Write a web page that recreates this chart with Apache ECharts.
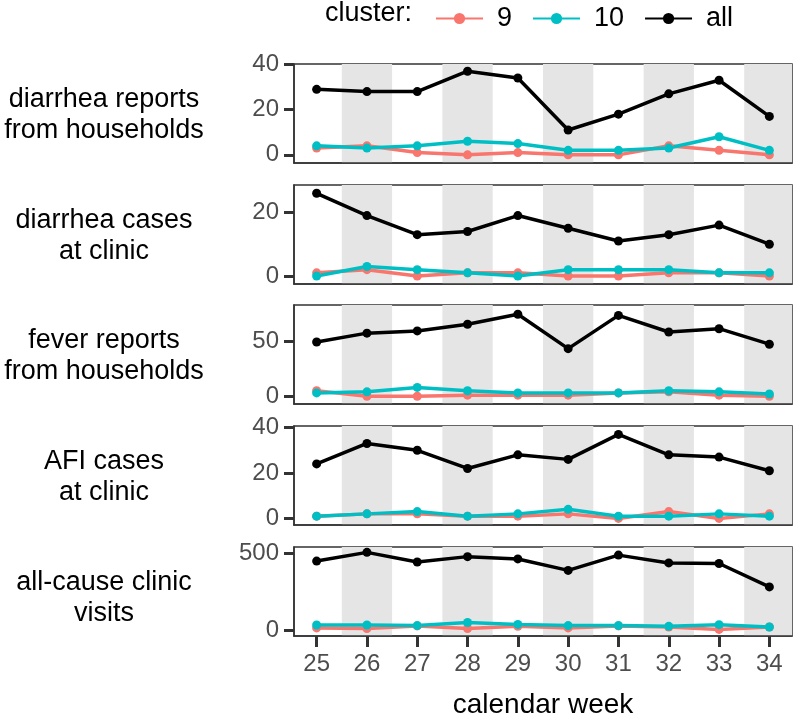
<!DOCTYPE html>
<html>
<head>
<meta charset="utf-8">
<script src="https://cdn.jsdelivr.net/npm/echarts@6/dist/echarts.min.js"></script>
<style>
html, body { margin: 0; padding: 0; background: #fff; }
#chart { width: 800px; height: 720px; }
</style>
</head>
<body>
<div id="chart"></div>
<script>
const weeks = [25, 26, 27, 28, 29, 30, 31, 32, 33, 34];
const panelLabels = [
    'diarrhea reports\nfrom households',
    'diarrhea cases\nat clinic',
    'fever reports\nfrom households',
    'AFI cases\nat clinic',
    'all-cause clinic\nvisits'
];
const clusterNames = ['9', '10', 'all'];
// one row per panel
const cluster9 = [
    [3, 4, 1, 0, 1, 0, 0, 4, 2, 0],
    [1, 2, 0, 1, 1, 0, 0, 1, 1, 0],
    [5, 0, 0, 1, 1, 1, 3, 4, 1, 0],
    [1, 2, 2, 1, 1, 2, 0, 3, 0, 2],
    [14, 10, 27, 10, 24, 14, 27, 20, 4, 20]
];
const cluster10 = [
    [4, 3, 4, 6, 5, 2, 2, 3, 8, 2],
    [0, 3, 2, 1, 0, 2, 2, 2, 1, 1],
    [3, 4, 8, 5, 3, 3, 3, 5, 4, 2],
    [1, 2, 3, 1, 2, 4, 1, 1, 2, 1],
    [33, 33, 29, 49, 37, 29, 29, 24, 35, 20]
];
const clusterAll = [
    [29, 28, 28, 37, 34, 11, 18, 27, 33, 17],
    [26, 19, 13, 14, 19, 15, 11, 13, 16, 10],
    [49, 57, 59, 65, 74, 43, 73, 58, 61, 47],
    [24, 33, 30, 22, 28, 26, 37, 28, 27, 21],
    [451, 508, 445, 480, 465, 390, 490, 439, 435, 282]
];
const yTicks = [[0, 20, 40], [0, 20], [0, 50], [0, 20, 40], [0, 500]];
const yRanges = [[-3.6, 40.2], [-2.5, 28.6], [-7, 82.4], [-2.9, 40.7], [-39, 543]];

const colors = ['#F8766D', '#00BFC4', '#000000'];
const font = 'Liberation Sans, Arial, sans-serif';
const xMin = 24.55, xMax = 34.45;
const gridTops = [64, 185, 305, 426, 547];
const gridH = 99;
const tickColor = '#333';

// shaded bands behind even weeks
const bands = weeks.filter(w => w % 2 === 0).map(w => [
    { xAxis: w - 0.5 }, { xAxis: Math.min(w + 0.5, xMax) }
]);

const grids = [], xAxes = [], yAxes = [], series = [], graphics = [];
for (let i = 0; i < 5; i++) {
    const last = i === 4;
    grids.push({
        left: 294, right: 8, top: gridTops[i], height: gridH,
        show: true, borderColor: '#333', borderWidth: 1.5,
        backgroundColor: 'transparent'
    });
    xAxes.push({
        type: 'value', gridIndex: i, min: xMin, max: xMax, z: 10,
        axisLine: { show: true, onZero: false, lineStyle: { color: '#333', width: 1.5 } },
        splitLine: { show: false },
        axisTick: { show: last, inside: false, customValues: weeks, length: 11, lineStyle: { color: tickColor, width: 3 } },
        axisLabel: { show: last, customValues: weeks, fontSize: 24, color: '#4d4d4d', margin: 16, fontFamily: font },
        name: last ? 'calendar week' : '', nameLocation: 'middle', nameGap: 55,
        nameTextStyle: { fontSize: 28, color: '#000', fontFamily: font }
    });
    yAxes.push({
        type: 'value', gridIndex: i, min: yRanges[i][0], max: yRanges[i][1], z: 10,
        axisLine: { show: true, onZero: false, lineStyle: { color: '#333', width: 1.5 } },
        splitLine: { show: false },
        axisTick: { show: true, inside: false, customValues: yTicks[i], length: 10, lineStyle: { color: tickColor, width: 3 } },
        axisLabel: { customValues: yTicks[i], fontSize: 24, color: '#4d4d4d', margin: 15, fontFamily: font }
    });
    const rows = [cluster9[i], cluster10[i], clusterAll[i]];
    rows.forEach((vals, k) => {
        const s = {
            name: clusterNames[k], type: 'line', xAxisIndex: i, yAxisIndex: i,
            data: weeks.map((w, j) => [w, vals[j]]),
            color: colors[k],
            symbol: 'circle', symbolSize: 9,
            lineStyle: { width: 3.5, color: colors[k] },
            itemStyle: { color: colors[k] },
            emphasis: { disabled: true }
        };
        if (k === 0) {
            s.markArea = { silent: true, itemStyle: { color: '#e5e5e5' }, data: bands };
        }
        series.push(s);
    });
    graphics.push({
        type: 'text', x: 104, y: gridTops[i] + gridH / 2 + 2,
        style: {
            text: panelLabels[i], textAlign: 'center', textVerticalAlign: 'middle',
            font: '27px ' + font, fill: '#000', lineHeight: 31
        }
    });
}
graphics.push({
    type: 'text', x: 325, y: 14,
    style: { text: 'cluster:', textVerticalAlign: 'middle', font: '27px ' + font, fill: '#000' }
});

const chart = echarts.init(document.getElementById('chart'));
chart.setOption({
    animation: false,
    backgroundColor: '#fff',
    grid: grids,
    xAxis: xAxes,
    yAxis: yAxes,
    legend: {
        data: clusterNames, left: 430, top: 0,
        itemWidth: 47, itemHeight: 14, itemGap: 20,
        textStyle: { fontSize: 27, color: '#000', fontFamily: font, padding: [0, 0, 0, 9] },
        selectedMode: false
    },
    graphic: graphics,
    series: series
});
</script>
</body>
</html>
